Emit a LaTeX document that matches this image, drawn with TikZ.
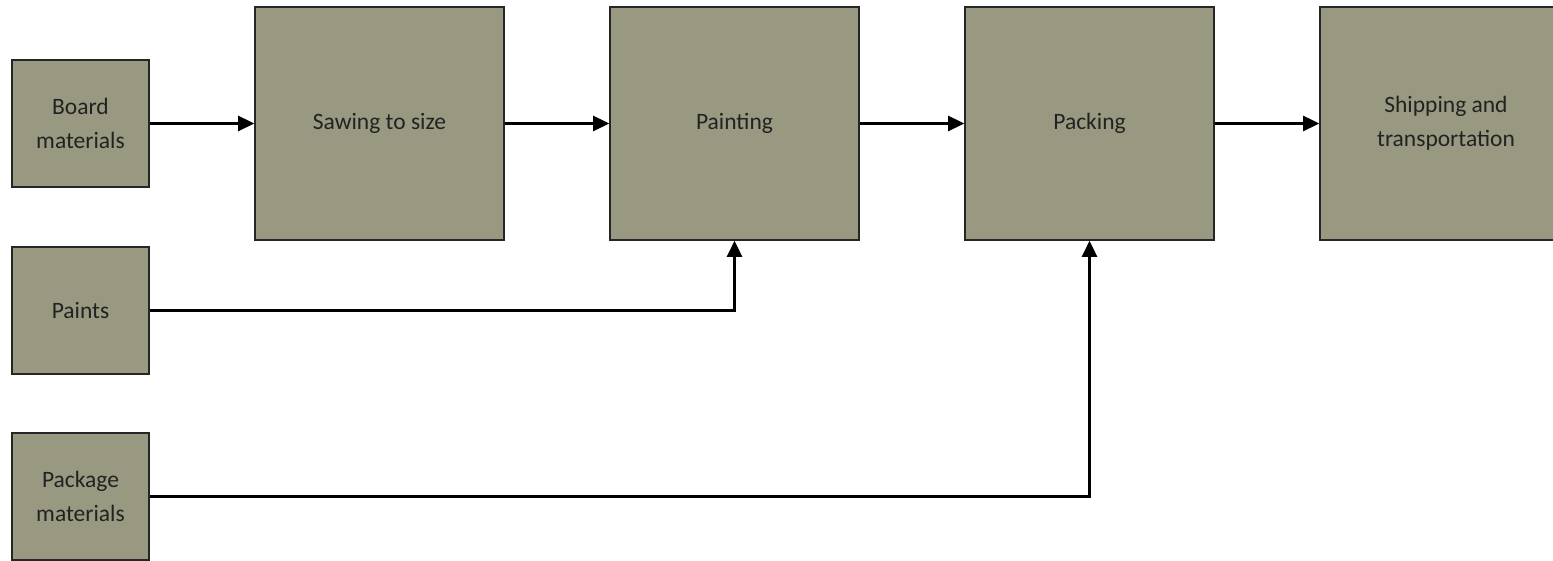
\documentclass[tikz,border=0pt]{standalone}
\usepackage{fontspec}
\setmainfont{Carlito}
\usetikzlibrary{arrows.meta}
\definecolor{boxfill}{HTML}{999982}
\definecolor{txt}{HTML}{222222}
\begin{document}
\begin{tikzpicture}[x=1pt,y=-1pt,
  proc/.style={draw=black!85, line width=1.6pt, fill=boxfill, inner sep=0pt,
    align=center, text=txt, font=\fontsize{23.5}{34}\selectfont},
  small/.style={proc, minimum width=137pt, minimum height=127pt},
  big/.style={proc, minimum width=249pt, minimum height=233pt},
  conn/.style={line width=2.6pt, -{Triangle[length=16pt,width=15pt]}}]
\useasboundingbox (0,0) rectangle (1553,561);
\clip (0,0) rectangle (1553,561);
\node[small] (board) at (80.5,123.5) {Board\\materials};
\node[small] (paints) at (80.5,310.5) {Paints};
\node[small] (pack) at (80.5,496.5) {Package\\materials};
\node[big] (saw) at (379.5,123.5) {Sawing to size};
\node[big] (paint) at (734.5,123.5) {Painting};
\node[big] (packing) at (1089.5,123.5) {Packing};
\node[big, minimum width=252pt] (ship) at (1446,123.5) {Shipping and\\transportation};
\draw[conn] (board) -- (saw);
\draw[conn] (saw) -- (paint);
\draw[conn] (paint) -- (packing);
\draw[conn] (packing) -- (ship);
\draw[conn] (paints.east) -| (paint.south);
\draw[conn] (pack.east) -| (packing.south);
\end{tikzpicture}
\end{document}
